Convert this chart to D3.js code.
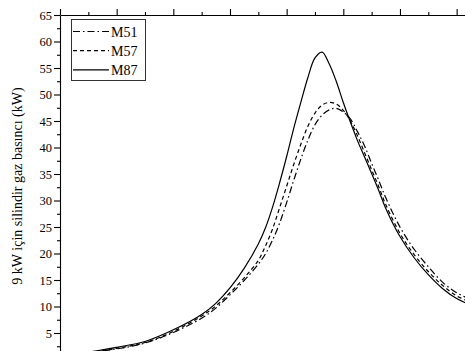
<!DOCTYPE html>
<html>
<head>
<meta charset="utf-8">
<script src="https://cdn.jsdelivr.net/npm/d3@7"></script>
<style>
  html, body { margin: 0; padding: 0; background: #fff; }
  svg { display: block; }
  text { font-family: "Liberation Serif", "Times New Roman", serif; fill: #000; }
</style>
</head>
<body>
<svg id="chart" width="465" height="351"></svg>
<script>
// Crank-angle positions (degrees from the left axis) and cylinder gas values
const angle = [0, 5, 10, 15, 20, 25, 27.5, 30, 32.5, 35, 36.25, 37.5, 38.75, 40,
  41.25, 42.5, 43.75, 45, 46.25, 47.5, 48.75, 50, 51.25, 52.5, 53.75, 55, 56.25,
  57.5, 60, 62.5, 65, 67.5, 70, 72.5];
const m51 = [0.8, 1.3, 2.0, 3.1, 5.1, 7.8, 9.7, 12.2, 14.9, 18.0, 19.9, 22.5, 25.7, 29.6,
  33.8, 37.8, 41.4, 44.3, 46.1, 47.1, 47.4, 46.7, 45.4, 43.0, 40.3, 37.0, 33.8,
  30.5, 25.0, 20.8, 17.5, 14.6, 12.6, 11.3];
const m57 = [0.8, 1.3, 2.1, 3.2, 5.3, 8.2, 10.1, 12.6, 15.4, 18.7, 21.4, 24.6, 28.6, 32.7,
  36.8, 40.6, 44.0, 46.5, 48.0, 48.5, 48.2, 47.0, 45.0, 42.2, 39.0, 35.8, 32.6,
  29.2, 23.8, 19.8, 16.6, 14.0, 12.0, 10.8];
const m87 = [0.9, 1.4, 2.3, 3.4, 5.6, 8.5, 10.6, 13.5, 17.2, 21.8, 24.8, 28.7, 33.3, 38.3,
  43.6, 48.5, 53.2, 56.9, 58.0, 55.8, 52.5, 48.5, 44.8, 41.3, 38.2, 35.1, 31.9,
  28.5, 23.2, 19.2, 16.0, 13.4, 11.5, 10.3];

const seriesNames = ["M51", "M57", "M87"];
const seriesValues = [m51, m57, m87];
const dashes = ["7,3,1.5,3", "4,3", null];

const yMajor = [5, 10, 15, 20, 25, 30, 35, 40, 45, 50, 55, 60, 65];
const yMinor = [2.5, 7.5, 12.5, 17.5, 22.5, 27.5, 32.5, 37.5, 42.5, 47.5, 52.5, 57.5, 62.5];
const xMajor = [0, 10, 20, 30, 40, 50, 60, 70];
const xMinor = [5, 15, 25, 35, 45, 55, 65];

const yTitle = "9 kW için silindir gaz basıncı (kW)";

const svg = d3.select("#chart");

const x = d3.scaleLinear().domain([0, 72.5]).range([60, 470.8]);
const y = d3.scaleLinear().domain([0, 65]).range([359.5, 15]);

// curves
const line = d3.line()
  .x(d => x(d[0]))
  .y(d => y(d[1]))
  .curve(d3.curveCatmullRom.alpha(0.5));

seriesValues.forEach((vals, i) => {
  const pts = angle.map((a, k) => [a, vals[k]]);
  svg.append("path")
    .attr("d", line(pts))
    .attr("fill", "none")
    .attr("stroke", "#000")
    .attr("stroke-width", 1.2)
    .attr("stroke-dasharray", dashes[i]);
});

// left axis
const gLeft = svg.append("g").attr("transform", "translate(60,0)");
gLeft.call(d3.axisLeft(y).tickValues(yMajor).tickSize(6).tickSizeOuter(0).tickPadding(2));
gLeft.append("g").call(d3.axisLeft(y).tickValues(yMinor).tickSize(3).tickSizeOuter(0).tickFormat(""))
  .select(".domain").remove();
gLeft.selectAll("text").attr("font-size", 12.5).attr("font-family", "Liberation Serif");

// top axis
const gTop = svg.append("g").attr("transform", "translate(0,15)");
gTop.call(d3.axisTop(x).tickValues(xMajor).tickSize(6).tickSizeOuter(0).tickFormat(""));
gTop.append("g").call(d3.axisTop(x).tickValues(xMinor).tickSize(3).tickSizeOuter(0).tickFormat(""))
  .select(".domain").remove();

svg.selectAll(".domain, .tick line").attr("stroke", "#000").attr("stroke-width", 1.1);

// y title
svg.append("text")
  .attr("transform", "translate(22,186) rotate(-90)")
  .attr("text-anchor", "middle")
  .attr("font-size", 14)
  .text(yTitle);

// legend
const lg = svg.append("g");
lg.append("rect")
  .attr("x", 71.5).attr("y", 19.5).attr("width", 74).attr("height", 61)
  .attr("fill", "#fff").attr("stroke", "#333").attr("stroke-width", 1);
seriesNames.forEach((name, i) => {
  const ly = 31.5 + i * 19.2;
  lg.append("line")
    .attr("x1", 73).attr("x2", 109).attr("y1", ly).attr("y2", ly)
    .attr("stroke", "#000").attr("stroke-width", 1.2)
    .attr("stroke-dasharray", dashes[i]);
  lg.append("text")
    .attr("x", 111).attr("y", ly + 5)
    .attr("font-size", 14)
    .text(name);
});
</script>
</body>
</html>
